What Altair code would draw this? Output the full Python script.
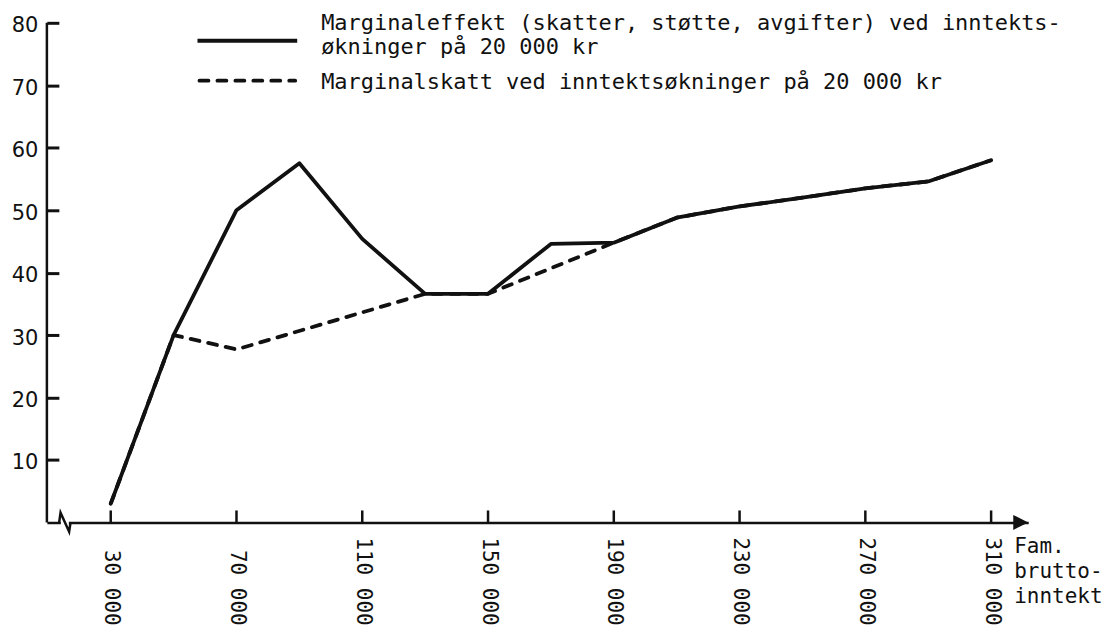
import altair as alt
import pandas as pd

# ---- data ----
income = [30000, 50000, 70000, 90000, 110000, 130000, 150000, 170000,
          190000, 210000, 230000, 250000, 270000, 290000, 310000]
marginal_effect = [3, 30, 50, 57.5, 45.4, 36.6, 36.6, 44.6,
                   44.8, 48.8, 50.6, 52.0, 53.5, 54.6, 58.0]
tax_income = [30000, 50000, 70000, 130000, 150000, 190000,
              210000, 230000, 250000, 270000, 290000, 310000]
marginal_tax = [3, 30, 27.7, 36.6, 36.6, 44.8,
                48.8, 50.6, 52.0, 53.5, 54.6, 58.0]
x_ticks = [30000, 70000, 110000, 150000, 190000, 230000, 270000, 310000]
y_ticks = [10, 20, 30, 40, 50, 60, 70, 80]
legend_texts = ["Marginaleffekt (skatter, støtte, avgifter) ved inntekts-",
                "økninger på 20 000 kr",
                "Marginalskatt ved inntektsøkninger på 20 000 kr"]
x_title_lines = ["Fam.", "brutto-", "inntekt"]

# ---- layout ----
W, H = 984, 501
X_MIN, X_MAX = 9700, 321800
MONO = "DejaVu Sans Mono"
INK = "#111111"

xscale = alt.Scale(domain=[X_MIN, X_MAX], nice=False, zero=False)
yscale = alt.Scale(domain=[0, 80], nice=False, zero=True)

df_eff = pd.DataFrame({"inntekt": income, "verdi": marginal_effect})
df_tax = pd.DataFrame({"inntekt": tax_income, "verdi": marginal_tax})
df_xt = pd.DataFrame({"xt": x_ticks})
one = pd.DataFrame({"a": [0]})

x_axis = alt.Axis(values=x_ticks, title=None, grid=False, domain=True,
                  domainColor=INK, domainWidth=2.5, ticks=False, tickSize=0,
                  labelAngle=90, labelAlign="right", labelBaseline="middle",
                  labelPadding=103, labelFont=MONO, labelFontSize=21,
                  labelColor=INK, labelOverlap=False, labelFlush=False,
                  labelExpr="replace(format(datum.value, ','), ',', ' ')")
# y-axis: shifted 12 px into the plot so its (outward) ticks point into the chart
y_axis = alt.Axis(values=y_ticks, title=None, grid=False, domain=False,
                  ticks=True, tickSize=12, tickWidth=3, tickColor=INK,
                  offset=-12,
                  labelAlign="right", labelBaseline="middle", labelPadding=9,
                  labelOffset=3, labelFont="DejaVu Sans", labelFontSize=21,
                  labelColor=INK)

X = alt.X("inntekt:Q", scale=xscale, axis=x_axis)
Y = alt.Y("verdi:Q", scale=yscale, axis=y_axis)

solid = alt.Chart(df_eff).mark_line(color=INK, strokeWidth=3.8, strokeJoin="round").encode(
    x=X, y=Y)
dashed = alt.Chart(df_tax).mark_line(color=INK, strokeWidth=3.8, strokeDash=[9, 9],
                                     strokeCap="round", strokeJoin="round").encode(
    x=X, y=Y)

xticks = alt.Chart(df_xt).mark_rule(color=INK, stroke=INK, strokeWidth=2.5).encode(
    x=alt.X("xt:Q", scale=xscale, axis=x_axis),
    y=alt.value(H), y2=alt.value(H - 12))

# vertical axis line at the left edge of the plot
y_line = alt.Chart(one).mark_rule(color=INK, strokeWidth=2.5).encode(
    x=alt.value(0), y=alt.value(0), y2=alt.value(H))

arrow = alt.Chart(one).mark_point(shape="M-1,-1L1,0L-1,1Z", filled=True, size=225,
                                  color=INK, opacity=1).encode(
    x=alt.value(W - 7.5), y=alt.value(H))

gap = alt.Chart(one).mark_rule(color="white", strokeWidth=5).encode(
    x=alt.value(14), x2=alt.value(22), y=alt.value(H))
brk = alt.Chart(one).mark_point(shape="M-0.57,0L-0.43,-0.97L0.43,0.93L0.57,0",
                                filled=False, size=400, color=INK, strokeWidth=2.5,
                                opacity=1).encode(
    x=alt.value(18), y=alt.value(H))

leg_solid = alt.Chart(one).mark_rule(color=INK, strokeWidth=3.8).encode(
    x=alt.value(151), x2=alt.value(251), y=alt.value(18))
leg_dash = alt.Chart(one).mark_rule(color=INK, strokeWidth=3.8, strokeDash=[9, 9],
                                    strokeCap="round").encode(
    x=alt.value(153), x2=alt.value(249), y=alt.value(58))

df_leg = pd.DataFrame({"t": legend_texts, "px": [275, 275, 275], "py": [7, 31, 66]})
leg_text = alt.Chart(df_leg).mark_text(font=MONO, fontSize=22, align="left",
                                       baseline="alphabetic", color=INK).encode(
    text="t:N",
    x=alt.X("px:Q", scale=None, axis=None),
    y=alt.Y("py:Q", scale=None, axis=None),
)

df_xtitle = pd.DataFrame({"t": x_title_lines, "px": [970, 970, 970], "py": [532, 557, 582]})
xtitle = alt.Chart(df_xtitle).mark_text(font=MONO, fontSize=21, align="left",
                                        baseline="alphabetic", color=INK).encode(
    text="t:N",
    x=alt.X("px:Q", scale=None, axis=None),
    y=alt.Y("py:Q", scale=None, axis=None),
)

chart = alt.layer(
    solid, dashed, xticks, y_line, gap, brk, arrow,
    leg_solid, leg_dash, leg_text, xtitle,
).properties(
    width=W, height=H,
    autosize=alt.AutoSizeParams(type="none"),
    padding={"left": 39, "top": 14, "right": 80, "bottom": 103},
    background="white",
).configure_view(stroke=None)

chart.save("out.html", embed_options={"renderer": "svg", "actions": False})
